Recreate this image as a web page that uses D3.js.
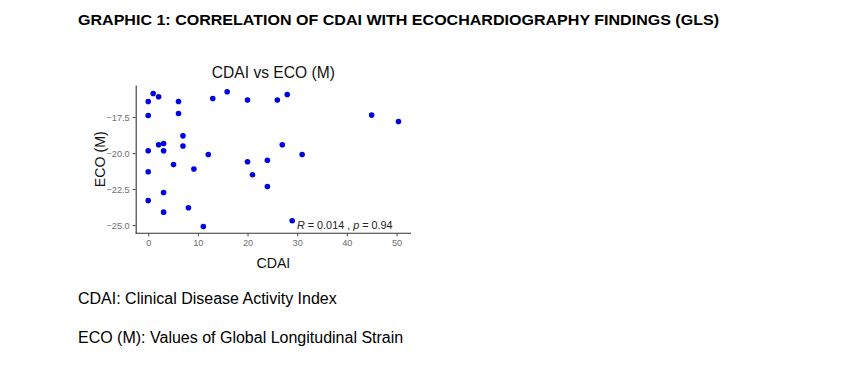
<!DOCTYPE html>
<html>
<head>
<meta charset="utf-8">
<script src="https://cdn.jsdelivr.net/npm/d3@7"></script>
<style>
  body { margin: 0; background: #fff; font-family: Arial, "Liberation Sans", sans-serif; }
</style>
</head>
<body>
<div id="chart"></div>
<script>
// data
const cdai = [0, 1, 2.1, 0, 6.1, 6.1, 13, 15.9, 20, 26, 28, 45, 50.4, 7, 2.1, 3.1, 7, 0, 3.1, 27,
              12.1, 31, 20, 24, 5.1, 9.2, 0, 21, 24, 3.1, 0, 3.1, 8.1, 11.1, 29];
const eco = [-16.42, -15.86, -16.09, -17.39, -16.42, -17.25, -16.21, -15.74, -16.32, -16.32, -15.93, -17.36, -17.8, -18.8, -19.42, -19.33, -19.51, -19.84, -19.84, -19.42,
             -20.1, -20.1, -20.6, -20.5, -20.8, -21.1, -21.3, -21.5, -22.32, -22.74, -23.3, -24.1, -23.8, -25.1, -24.7];
const xTicks = [0, 10, 20, 30, 40, 50];
const yTicks = [-17.5, -20.0, -22.5, -25.0];
const captions = ["CDAI: Clinical Disease Activity Index", "ECO (M): Values of Global Longitudinal Strain"];

const W = 862, H = 365;
const svg = d3.select("#chart").append("svg")
    .attr("width", W)
    .attr("height", H);

// figure heading
svg.append("text")
    .attr("x", 78)
    .attr("y", 25)
    .style("font-size", "14.8px")
    .style("font-weight", "bold")
    .attr("textLength", 641)
    .attr("lengthAdjust", "spacingAndGlyphs")
    .text("GRAPHIC 1: CORRELATION OF CDAI WITH ECOCHARDIOGRAPHY FINDINGS (GLS)");

// panel
const panel = { left: 135.7, right: 411, top: 85, bottom: 233.3 };

const x = d3.scaleLinear()
    .domain([-2.52, 52.92])
    .range([panel.left, panel.right]);

const y = d3.scaleLinear()
    .domain([-25.57, -15.27])
    .range([panel.bottom, panel.top]);

const xAxis = d3.axisBottom(x).tickValues(xTicks).tickSize(3).tickSizeOuter(0).tickPadding(3);
const yAxis = d3.axisLeft(y).tickValues(yTicks).tickSize(3).tickSizeOuter(0).tickPadding(3)
    .tickFormat(d3.format(".1f"));

const gx = svg.append("g")
    .attr("transform", `translate(0, ${panel.bottom})`)
    .call(xAxis);
const gy = svg.append("g")
    .attr("transform", `translate(${panel.left}, 0)`)
    .call(yAxis);

[gx, gy].forEach(g => {
    g.select(".domain").attr("stroke", "#333").attr("stroke-width", 1.1);
    g.selectAll(".tick line").attr("stroke", "#444");
    g.selectAll(".tick text")
        .attr("fill", "#6e6e6e")
        .style("font-size", "9.2px")
        .style("font-family", "Arial, 'Liberation Sans', sans-serif");
});
// x axis line spans whole panel
gx.select(".domain").attr("d", `M${panel.left},0H${panel.right}`);

// titles
svg.append("text")
    .attr("x", (panel.left + panel.right) / 2)
    .attr("y", 78)
    .attr("text-anchor", "middle")
    .style("font-size", "15.6px")
    .attr("fill", "#111")
    .text("CDAI vs ECO (M)");

svg.append("text")
    .attr("x", (panel.left + panel.right) / 2)
    .attr("y", 268)
    .attr("text-anchor", "middle")
    .style("font-size", "14.2px")
    .attr("fill", "#111")
    .text("CDAI");

svg.append("text")
    .attr("transform", "rotate(-90)")
    .attr("x", -(panel.top + panel.bottom) / 2)
    .attr("y", 105)
    .attr("text-anchor", "middle")
    .style("font-size", "14.2px")
    .attr("fill", "#111")
    .text("ECO (M)");

// points
svg.append("g")
    .selectAll("circle")
    .data(cdai.map((d, i) => ({ cdai: d, eco: eco[i] })))
    .join("circle")
    .attr("cx", d => x(d.cdai))
    .attr("cy", d => y(d.eco))
    .attr("r", 2.8)
    .attr("fill", "#0000e6");

// correlation label
const stat = svg.append("text")
    .attr("x", 297)
    .attr("y", 229)
    .style("font-size", "10.8px")
    .attr("fill", "#222");
stat.append("tspan").style("font-style", "italic").text("R");
stat.append("tspan").text(" = 0.014 , ");
stat.append("tspan").style("font-style", "italic").text("p");
stat.append("tspan").text(" = 0.94");

// captions below
svg.selectAll(".caption")
    .data(captions)
    .join("text")
    .attr("class", "caption")
    .attr("x", 78)
    .attr("y", (d, i) => 304 + i * 39)
    .style("font-size", "16px")
    .attr("fill", "#000")
    .text(d => d);
</script>
</body>
</html>
